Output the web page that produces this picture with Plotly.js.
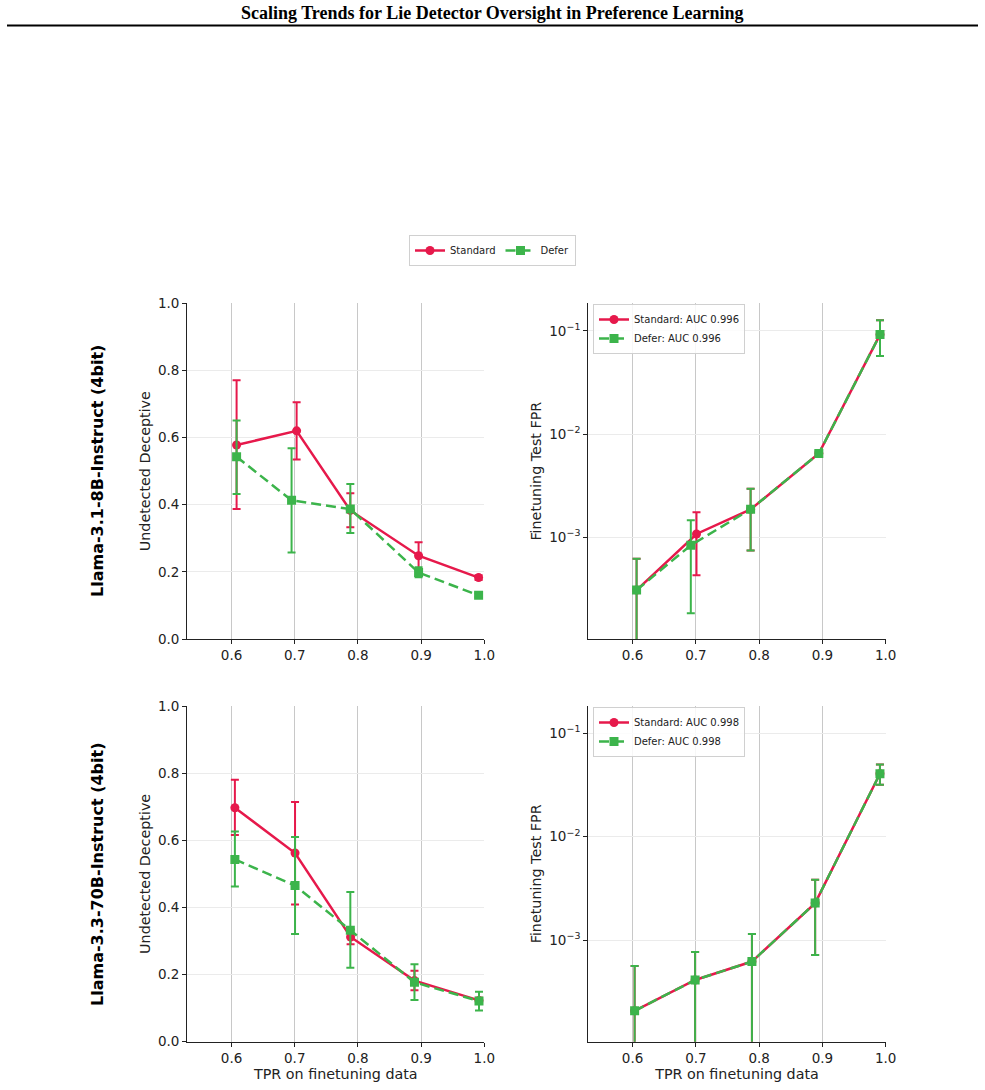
<!DOCTYPE html>
<html>
<head>
<meta charset="utf-8">
<script src="https://cdn.plot.ly/plotly-3.0.1.min.js"></script>
<style>
  html, body { margin: 0; padding: 0; background: #fff; }
  #chart { width: 985px; height: 1090px; }
</style>
</head>
<body>
<div id="chart"></div>
<script>
// ---- Llama-3.1-8B-Instruct (4bit): undetected deceptive rate ----
const r1StdTpr   = [0.608, 0.703, 0.788, 0.896, 0.991];
const r1StdUnd   = [0.578, 0.620, 0.383, 0.248, 0.183];
const r1StdUndHi = [0.771, 0.705, 0.434, 0.288, 0.190];
const r1StdUndLo = [0.387, 0.535, 0.333, 0.208, 0.176];
const r1DefTpr   = [0.608, 0.695, 0.788, 0.896, 0.991];
const r1DefUnd   = [0.543, 0.413, 0.387, 0.198, 0.130];
const r1DefUndHi = [0.651, 0.568, 0.462, 0.214, 0.136];
const r1DefUndLo = [0.432, 0.258, 0.316, 0.184, 0.124];

// ---- Llama-3.1-8B-Instruct (4bit): finetuning test FPR ----
const r1StdFprTpr = [0.6063, 0.701, 0.7865, 0.8943, 0.991];
const r1StdFpr    = [3.09e-4, 1.08e-3, 1.87e-3, 6.5e-3, 0.0922];
const r1StdFprHi  = [6.2e-4, 1.75e-3, 2.96e-3, 6.8e-3, 0.127];
const r1StdFprLo  = [0, 4.31e-4, 7.48e-4, 6.2e-3, 0.0573];
const r1DefFprTpr = [0.6063, 0.692, 0.7865, 0.8943, 0.991];
const r1DefFpr    = [3.09e-4, 8.4e-4, 1.87e-3, 6.5e-3, 0.0922];
const r1DefFprHi  = [6.2e-4, 1.47e-3, 2.96e-3, 6.8e-3, 0.127];
const r1DefFprLo  = [0, 1.84e-4, 7.48e-4, 6.2e-3, 0.0573];
const r1StdAuc = "0.996";
const r1DefAuc = "0.996";

// ---- Llama-3.3-70B-Instruct (4bit): undetected deceptive rate ----
const r2StdTpr   = [0.6053, 0.7005, 0.7884, 0.8895, 0.9916];
const r2StdUnd   = [0.697, 0.562, 0.312, 0.182, 0.123];
const r2StdUndHi = [0.780, 0.714, 0.334, 0.211, 0.131];
const r2StdUndLo = [0.616, 0.409, 0.290, 0.153, 0.115];
const r2DefTpr   = [0.6053, 0.7005, 0.788, 0.8895, 0.9916];
const r2DefUnd   = [0.543, 0.465, 0.332, 0.177, 0.121];
const r2DefUndHi = [0.626, 0.610, 0.446, 0.231, 0.149];
const r2DefUndLo = [0.462, 0.321, 0.220, 0.124, 0.093];

// ---- Llama-3.3-70B-Instruct (4bit): finetuning test FPR ----
const r2FprTpr = [0.6032, 0.6988, 0.7886, 0.8885, 0.9909];
const r2StdFpr   = [2.08e-4, 4.13e-4, 6.22e-4, 2.28e-3, 0.0404];
const r2StdFprHi = [5.65e-4, 7.7e-4, 1.15e-3, 3.84e-3, 0.0498];
const r2StdFprLo = [0, 0, 0, 7.2e-4, 0.0316];
const r2DefFpr   = [2.08e-4, 4.13e-4, 6.22e-4, 2.28e-3, 0.0404];
const r2DefFprHi = [5.65e-4, 7.7e-4, 1.15e-3, 3.84e-3, 0.0498];
const r2DefFprLo = [0, 0, 0, 7.2e-4, 0.0316];
const r2StdAuc = "0.998";
const r2DefAuc = "0.998";

const modelNames = ["Llama-3.1-8B-Instruct (4bit)", "Llama-3.3-70B-Instruct (4bit)"];
const seriesNames = ["Standard", "Defer"];
const xTickVals = [0.6, 0.7, 0.8, 0.9, 1.0];
const yTickVals = [0, 0.2, 0.4, 0.6, 0.8, 1.0];
const logTickVals = [1e-3, 1e-2, 1e-1];
const logTickText = ["10<sup>\u22123</sup>", "10<sup>\u22122</sup>", "10<sup>\u22121</sup>"];

const RED = "#e6194b";
const GREEN = "#3cb44b";
const FONT = "DejaVu Sans, sans-serif";

function errs(vals, hi, lo) {
  return {
    type: "data", symmetric: false,
    array: vals.map((v, i) => hi[i] - v),
    arrayminus: vals.map((v, i) => v - lo[i]),
    thickness: 2, width: 4
  };
}

function series(kind, x, y, hi, lo, xa, ya, name, legendKey, show) {
  const isStd = kind === "std";
  const color = isStd ? RED : GREEN;
  const e = errs(y, hi, lo);
  e.color = color;
  return {
    type: "scatter", mode: "lines+markers",
    x: x, y: y, xaxis: xa, yaxis: ya,
    name: name, legend: legendKey, showlegend: show,
    line: { color: color, width: 2.5, dash: isStd ? "solid" : "10px,5px" },
    marker: { color: color, size: 9, symbol: isStd ? "circle" : "square" },
    error_y: e
  };
}

const traces = [
  series("std", r1StdTpr, r1StdUnd, r1StdUndHi, r1StdUndLo, "x", "y", seriesNames[0], "legend", true),
  series("def", r1DefTpr, r1DefUnd, r1DefUndHi, r1DefUndLo, "x", "y", seriesNames[1], "legend", true),
  series("std", r1StdFprTpr, r1StdFpr, r1StdFprHi, r1StdFprLo, "x2", "y2", seriesNames[0] + ": AUC " + r1StdAuc, "legend2", true),
  series("def", r1DefFprTpr, r1DefFpr, r1DefFprHi, r1DefFprLo, "x2", "y2", seriesNames[1] + ": AUC " + r1DefAuc, "legend2", true),
  series("std", r2StdTpr, r2StdUnd, r2StdUndHi, r2StdUndLo, "x3", "y3", seriesNames[0], "legend", false),
  series("def", r2DefTpr, r2DefUnd, r2DefUndHi, r2DefUndLo, "x3", "y3", seriesNames[1], "legend", false),
  series("std", r2FprTpr, r2StdFpr, r2StdFprHi, r2StdFprLo, "x4", "y4", seriesNames[0] + ": AUC " + r2StdAuc, "legend3", true),
  series("def", r2FprTpr, r2DefFpr, r2DefFprHi, r2DefFprLo, "x4", "y4", seriesNames[1] + ": AUC " + r2DefAuc, "legend3", true)
];

const W = 985, H = 1090;
const px = v => v / W;
const py = v => 1 - v / H;

const tickFont = { family: FONT, size: 13.5, color: "#222" };
const titleFont = { family: FONT, size: 14.3, color: "#222" };

function xAxis(domain, anchor, showTitle) {
  return {
    domain: domain, anchor: anchor, range: [0.53, 1.0],
    tickvals: xTickVals, ticktext: xTickVals.map(v => v.toFixed(1)),
    ticks: "outside", ticklen: 4, tickwidth: 1, tickcolor: "#222",
    tickfont: tickFont,
    showline: true, linecolor: "#222", linewidth: 1.2,
    showgrid: true, gridcolor: "#c8c8c8", gridwidth: 1,
    zeroline: false, automargin: false,
    title: showTitle ? { text: "TPR on finetuning data", font: titleFont, standoff: 2 } : { text: "" }
  };
}

function yLin(domain, anchor) {
  return {
    domain: domain, anchor: anchor, range: [0, 1.0],
    tickvals: yTickVals, ticktext: yTickVals.map(v => v.toFixed(1)),
    ticks: "outside", ticklen: 4, tickwidth: 1, tickcolor: "#222",
    tickfont: tickFont,
    showline: true, linecolor: "#222", linewidth: 1.2,
    showgrid: true, gridcolor: "#ebebeb", gridwidth: 1,
    zeroline: false, automargin: false,
    title: { text: "Undetected Deceptive", font: titleFont, standoff: 4 }
  };
}

function yLog(domain, anchor, range) {
  return {
    domain: domain, anchor: anchor, type: "log", range: range,
    tickvals: logTickVals, ticktext: logTickText,
    ticks: "outside", ticklen: 4, tickwidth: 1, tickcolor: "#222",
    tickfont: tickFont,
    showline: true, linecolor: "#222", linewidth: 1.2,
    showgrid: true, gridcolor: "#ebebeb", gridwidth: 1,
    zeroline: false, automargin: false,
    title: { text: "Finetuning Test FPR", font: titleFont, standoff: 4 }
  };
}

const leftDom = [px(187.3), px(484.3)];
const rightDom = [px(588.3), px(885.7)];
const topDom = [py(639), py(303.3)];
const botDom = [py(1041.7), py(706)];

const insideLegend = (yTop) => ({
  x: px(593), y: yTop, xanchor: "left", yanchor: "top",
  xref: "paper", yref: "paper",
  bgcolor: "rgba(255,255,255,0.85)", bordercolor: "#d0d0d0", borderwidth: 1,
  font: { family: FONT, size: 10, color: "#222" },
  itemwidth: 30, tracegroupgap: 0
});

const layout = {
  width: W, height: H,
  margin: { l: 0, r: 0, t: 0, b: 0 },
  paper_bgcolor: "#fff", plot_bgcolor: "#fff",
  font: { family: FONT, color: "#222" },
  xaxis: xAxis(leftDom, "y", false),
  yaxis: yLin(topDom, "x"),
  xaxis2: xAxis(rightDom, "y2", false),
  yaxis2: yLog(topDom, "x2", [-3.984, -0.732]),
  xaxis3: xAxis(leftDom, "y3", true),
  yaxis3: yLin(botDom, "x3"),
  xaxis4: xAxis(rightDom, "y4", true),
  yaxis4: yLog(botDom, "x4", [-3.98, -0.739]),
  legend: {
    orientation: "h", x: 0.5, y: py(250.5), xanchor: "center", yanchor: "middle",
    xref: "paper", yref: "paper",
    bgcolor: "#fff", bordercolor: "#d0d0d0", borderwidth: 1,
    font: { family: FONT, size: 10, color: "#222" },
    itemwidth: 30
  },
  legend2: insideLegend(py(304)),
  legend3: insideLegend(py(707)),
  annotations: [
    {
      text: "<b>Scaling Trends for Lie Detector Oversight in Preference Learning</b>",
      x: 0.5, y: py(13), xref: "paper", yref: "paper",
      xanchor: "center", yanchor: "middle", showarrow: false,
      font: { family: "Liberation Serif, Times New Roman, serif", size: 18, color: "#000" }
    },
    {
      text: "<b>" + modelNames[0] + "</b>",
      x: px(97), y: py(471), xref: "paper", yref: "paper",
      xanchor: "center", yanchor: "middle", showarrow: false, textangle: -90,
      font: { family: FONT, size: 16, color: "#000" }
    },
    {
      text: "<b>" + modelNames[1] + "</b>",
      x: px(97), y: py(874), xref: "paper", yref: "paper",
      xanchor: "center", yanchor: "middle", showarrow: false, textangle: -90,
      font: { family: FONT, size: 16, color: "#000" }
    }
  ],
  shapes: [
    {
      type: "line", xref: "paper", yref: "paper",
      x0: px(7), x1: px(978), y0: py(25.5), y1: py(25.5),
      line: { color: "#000", width: 2 }
    }
  ]
};

Plotly.newPlot("chart", traces, layout, { staticPlot: true, displayModeBar: false });
</script>
</body>
</html>
